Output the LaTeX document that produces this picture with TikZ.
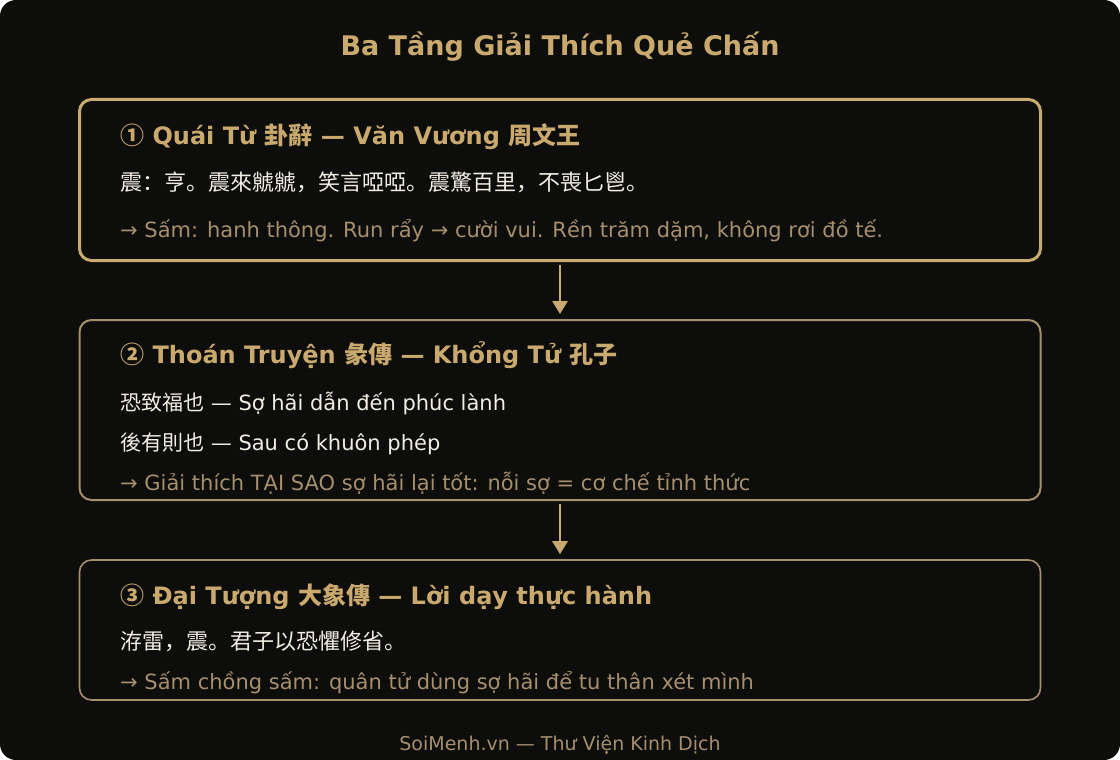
\documentclass[tikz,border=0pt]{standalone}
\usepackage{fontspec}
\setmainfont{DejaVu Sans}
\newfontfamily\cjk{Noto Sans CJK SC}
\newcommand{\zh}[1]{{\cjk #1}}
\usetikzlibrary{arrows.meta}
\definecolor{nen}{HTML}{0D0D0B}
\definecolor{vang}{HTML}{C9A96E}
\definecolor{vangmo}{HTML}{A68F6D}
\definecolor{chu}{HTML}{F2EEE6}
\begin{document}
\begin{tikzpicture}[x=1pt, y=-1pt,
    every node/.style={inner sep=0pt},
    tang/.style={draw, rounded corners=12pt, minimum width=961pt},
    tieude/.style={anchor=base west, text=vang, font=\fontsize{24}{28}\selectfont\bfseries},
    dong/.style={anchor=base west, text=chu, font=\fontsize{21}{25}\selectfont},
    hanzi/.style={dong, font=\fontsize{22}{26}\selectfont},
    ghichu/.style={anchor=base west, text=vangmo, font=\fontsize{21}{25}\selectfont},
    muiten/.style={draw=vang, line width=2.8pt, -{Triangle[width=15pt,length=13pt]}, shorten <=3pt, shorten >=5pt}]
        \useasboundingbox (0,0) rectangle (1120,760);
        \fill[nen, rounded corners=16pt] (0,0) rectangle (1120,760);

        % Tiêu đề
        \node (title) at (560,56) [anchor=base, text=vang, font=\fontsize{27}{32}\selectfont\bfseries] {Ba Tầng Giải Thích Quẻ Chấn};

        % Các tầng
        \node (T1) at (560,180) [tang, draw=vang, line width=3pt, minimum height=161pt] {};
        \node (T2) at (560,410) [tang, draw=vangmo, line width=2pt, minimum height=180pt] {};
        \node (T3) at (560,630) [tang, draw=vangmo, line width=1.6pt, minimum height=140pt] {};

        % Tầng 1
        \node (h1) at (120,144) [tieude] {\zh{①} Quái Từ \zh{卦辭} — Văn Vương \zh{周文王}};
        \node (a1) at (120,190) [hanzi] {\zh{震：亨。震來虩虩，笑言啞啞。震驚百里，不喪匕鬯。}};
        \node (b1) at (120,237) [ghichu] {→ Sấm: hanh thông. Run rẩy → cười vui. Rền trăm dặm, không rơi đồ tế.};

        % Tầng 2
        \node (h2) at (120,363) [tieude] {\zh{②} Thoán Truyện \zh{彖傳} — Khổng Tử \zh{孔子}};
        \node (a2) at (120,410) [dong] {\zh{恐致福也} — Sợ hãi dẫn đến phúc lành};
        \node (c2) at (120,450) [dong] {\zh{後有則也} — Sau có khuôn phép};
        \node (b2) at (120,490) [ghichu] {→ Giải thích TẠI SAO sợ hãi lại tốt: nỗi sợ = cơ chế tỉnh thức};

        % Tầng 3
        \node (h3) at (120,604) [tieude] {\zh{③} Đại Tượng \zh{大象傳} — Lời dạy thực hành};
        \node (a3) at (120,649) [hanzi] {\zh{洊雷，震。君子以恐懼修省。}};
        \node (b3) at (120,689) [ghichu] {→ Sấm chồng sấm: quân tử dùng sợ hãi để tu thân xét mình};

        % Chân trang
        \node (foot) at (560,750) [anchor=base, text=vangmo, font=\fontsize{19}{22}\selectfont] {SoiMenh.vn — Thư Viện Kinh Dịch};

        % Mũi tên
        \draw[muiten] (T1.south) -- (T2.north);
        \draw[muiten] (T2.south) -- (T3.north);
    \end{tikzpicture}
\end{document}
